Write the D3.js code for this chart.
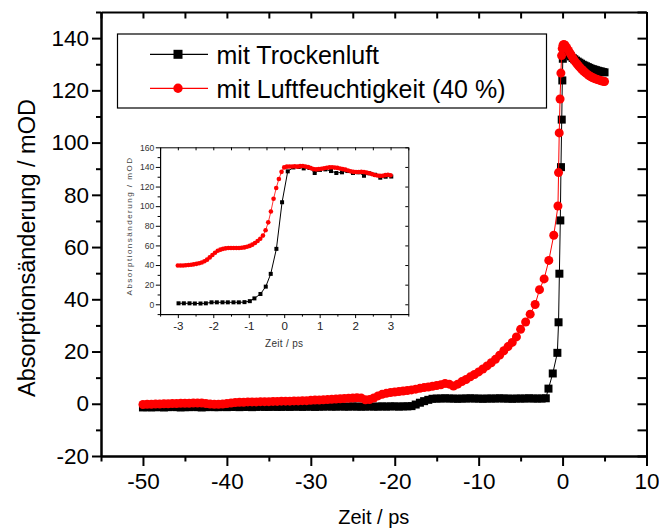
<!DOCTYPE html>
<html>
<head>
<meta charset="utf-8">
<script src="https://cdn.jsdelivr.net/npm/d3@7"></script>
<style>
  html, body { margin: 0; padding: 0; background: #fff; }
  svg { display: block; font-family: "Liberation Sans", Arial, sans-serif; }
</style>
</head>
<body>
<svg id="chart" width="659" height="532"></svg>
<script>
// ---------------- DATA ----------------
const seriesNames = ["mit Trockenluft", "mit Luftfeuchtigkeit (40 %)"];

// main panel: [time (ps), absorption change (mOD)]
const dryMain = [
  [-50,-1.4],[-49.5,-1.3],[-49,-1.4],[-48.5,-1.3],[-48,-1.3],[-47.5,-1.4],[-47,-1.3],[-46.5,-1.2],[-46,-1.3],[-45.5,-1.4],
  [-45,-1.3],[-44.5,-1.3],[-44,-1.2],[-43.5,-1.3],[-43,-1.4],[-42.5,-1.3],[-42,-1.2],[-41.5,-1.3],[-41,-1.3],[-40.5,-1.2],
  [-40,-1.3],[-39.5,-1.2],[-39,-1.2],[-38.5,-1.3],[-38,-1.2],[-37.5,-1.2],[-37,-1.3],[-36.5,-1.2],[-36,-1.1],[-35.5,-1.2],
  [-35,-1.2],[-34.5,-1.1],[-34,-1.2],[-33.5,-1.2],[-33,-1.1],[-32.5,-1.2],[-32,-1.1],[-31.5,-1.1],[-31,-1.2],[-30.5,-1.1],
  [-30,-1.1],[-29.5,-1.2],[-29,-1.1],[-28.5,-1.1],[-28,-1.0],[-27.5,-1.1],[-27,-1.1],[-26.5,-1.0],[-26,-1.1],[-25.5,-1.1],
  [-25,-1.0],[-24.5,-1.1],[-24,-1.1],[-23.5,-1.1],[-23,-1.0],[-22.5,-1.1],[-22,-1.1],[-21.5,-1.0],[-21,-1.1],[-20.5,-1.0],
  [-20,-1.0],[-19.5,-1.1],[-19,-1.0],[-18.5,-1.0],[-18,-0.9],[-17.5,-0.3],[-17,0.4],[-16.5,1.0],[-16,1.5],[-15.5,1.9],
  [-15,2.0],[-14.5,2.0],[-14,2.1],[-13.5,2.0],[-13,2.0],[-12.5,1.9],[-12,2.0],[-11.5,2.0],[-11,2.1],[-10.5,2.0],
  [-10,2.0],[-9.5,1.9],[-9,2.0],[-8.5,2.0],[-8,2.0],[-7.5,2.1],[-7,2.0],[-6.5,2.0],[-6,1.9],[-5.5,2.0],
  [-5,2.0],[-4.5,2.0],[-4,2.1],[-3.5,2.0],[-3,2.0],[-2.5,2.0],[-2.0,2.1],
  [-1.68,5.8],[-1.17,11.6],[-0.62,19.5],[-0.48,31.2],[-0.38,49.8],[-0.27,70.2],[-0.19,90.6],[-0.1,108.8],[-0.03,123.8],[0.03,132.1],[0.1,135.0],
  [0.2,135.5],[0.4,135.0],[0.6,134.3],[0.8,133.6],[1.0,133.0],[1.2,132.4],[1.4,131.9],[1.6,131.4],[1.8,131.0],[2.0,130.6],
  [2.2,130.2],[2.4,129.8],[2.6,129.5],[2.8,129.2],[3.0,128.9],[3.2,128.6],[3.4,128.3],[3.6,128.1],[3.8,127.9],[4.0,127.7],
  [4.2,127.5],[4.4,127.3],[4.6,127.2],[4.8,127.0],[5.0,126.9]
];

const humidMain = [
  [-50,-0.3],[-49.5,-0.2],[-49,-0.2],[-48.5,-0.1],[-48,-0.1],[-47.5,0.0],[-47,0.0],[-46.5,0.1],[-46,0.1],[-45.5,0.2],
  [-45,0.2],[-44.5,0.2],[-44,0.3],[-43.5,0.3],[-43,0.3],[-42.5,0.1],[-42,-0.1],[-41.5,-0.2],[-41,-0.2],[-40.5,-0.1],
  [-40,0.1],[-39.5,0.3],[-39,0.5],[-38.5,0.6],[-38,0.6],[-37.5,0.7],[-37,0.7],[-36.5,0.7],[-36,0.8],[-35.5,0.8],
  [-35,0.8],[-34.5,0.9],[-34,0.9],[-33.5,1.0],[-33,1.0],[-32.5,1.0],[-32,1.1],[-31.5,1.1],[-31,1.2],[-30.5,1.2],
  [-30,1.3],[-29.5,1.4],[-29,1.4],[-28.5,1.5],[-28,1.6],[-27.5,1.7],[-27,1.8],[-26.5,1.9],[-26,2.0],[-25.5,2.1],
  [-25,2.2],[-24.5,2.3],[-24,2.2],[-23.5,1.5],[-23,1.6],[-22.5,2.2],[-22,3.0],[-21.5,3.6],[-21,4.0],[-20.5,4.3],
  [-20,4.5],[-19.5,4.7],[-19,4.9],[-18.5,5.1],[-18,5.3],[-17.5,5.6],[-17,5.9],[-16.5,6.2],[-16,6.4],[-15.5,6.7],
  [-15,7.0],[-14.5,7.3],[-14,7.8],[-13.5,7.5],[-13,6.8],[-12.5,7.5],[-12,8.5],[-11.5,9.3],[-11,10.3],[-10.5,11.2],
  [-10,12.2],[-9.5,13.3],[-9,14.5],[-8.5,15.7],[-8,17.0],[-7.5,18.6],[-7,20.3],[-6.5,21.9],[-6,23.5],[-5.5,25.6],
  [-5.0,28.5],[-4.4,31.3],[-3.86,34.3],[-3.27,38.0],[-2.75,43.7],[-2.2,47.8],[-1.64,54.9],[-1.05,64.5],
  [-0.55,75.7],[-0.48,88.5],[-0.4,103.7],[-0.3,116.7],[-0.2,126.6],[-0.12,133.3],[-0.04,136.0],[0.05,137.3],[0.15,137.6],
  [0.3,137.3],[0.5,136.3],[0.7,135.3],[0.9,134.2],[1.1,133.1],[1.3,132.0],[1.5,131.0],[1.7,130.2],[1.9,129.4],[2.1,128.7],
  [2.3,128.0],[2.5,127.4],[2.7,126.8],[2.9,126.3],[3.1,125.8],[3.3,125.4],[3.5,125.0],[3.7,124.7],[3.9,124.4],[4.1,124.2],
  [4.3,124.0],[4.5,123.8],[4.7,123.6],[4.9,123.5],[5.0,123.4]
];

// inset panel
const dryInset = [
  [-2.98,1.0],[-2.83,1.0],[-2.67,1.0],[-2.52,0.8],[-2.36,0.8],[-2.21,1.0],[-2.05,2.0],[-1.90,2.0],[-1.74,2.0],[-1.59,2.0],
  [-1.43,2.0],[-1.28,2.0],[-1.12,2.2],[-0.97,3.2],[-0.84,6.0],[-0.67,10.5],[-0.52,18.0],[-0.38,31.0],[-0.22,56.5],[-0.06,104.0],
  [0.10,135.5],[0.26,139.5],[0.41,140.0],[0.55,138.5],[0.71,139.0],[0.86,133.8],[1.01,137.0],[1.16,137.5],[1.32,135.8],[1.47,133.8],
  [1.63,134.5],[1.78,135.8],[1.94,133.8],[2.09,134.5],[2.25,131.0],[2.40,133.5],[2.56,132.0],[2.71,129.0],[2.86,130.0],[3.02,130.2]
];

const humidInset = [
  [-3.000,39.5],[-2.925,39.5],[-2.850,39.6],[-2.775,39.8],[-2.700,40.0],[-2.625,40.3],[-2.550,40.7],[-2.475,41.2],[-2.400,41.8],[-2.325,42.6],
  [-2.250,43.8],[-2.175,45.5],[-2.100,47.8],[-2.025,50.2],[-1.950,52.6],[-1.875,54.5],[-1.800,55.7],[-1.725,56.5],[-1.650,57.0],[-1.575,57.3],
  [-1.500,57.4],[-1.425,57.4],[-1.350,57.3],[-1.275,57.4],[-1.200,57.6],[-1.125,58.0],[-1.050,58.6],[-0.975,59.5],[-0.900,60.8],[-0.825,62.5],
  [-0.750,64.5],[-0.675,66.8],[-0.600,70.0],[-0.525,75.5],[-0.450,83.5],[-0.375,94.5],[-0.300,107.5],[-0.225,118.5],[-0.150,127.7],[-0.075,135.0],
  [0.000,139.5],[0.075,140.3],[0.150,140.5],[0.225,140.4],[0.300,140.6],[0.375,140.3],[0.450,140.8],[0.525,141.0],[0.600,140.5],[0.675,139.8],
  [0.750,138.8],[0.825,137.8],[0.900,137.5],[0.975,137.8],[1.050,138.2],[1.125,138.6],[1.200,139.2],[1.275,139.5],[1.350,139.6],[1.425,139.3],
  [1.500,139.0],[1.575,138.4],[1.650,137.8],[1.725,137.2],[1.800,136.3],[1.875,135.5],[1.950,135.0],[2.025,134.8],[2.100,134.9],[2.175,135.0],
  [2.250,134.7],[2.325,134.2],[2.400,133.5],[2.475,132.7],[2.550,131.8],[2.625,131.2],[2.700,130.9],[2.775,131.0],[2.850,131.6],[2.925,132.0],
  [3.000,131.5]
];

// ticks
const mainXTicks = [-50, -40, -30, -20, -10, 0, 10];
const mainXMinor = [-55, -45, -35, -25, -15, -5, 5];
const mainYTicks = [-20, 0, 20, 40, 60, 80, 100, 120, 140];
const mainYMinor = [-10, 10, 30, 50, 70, 90, 110, 130, 150];
const insetXTicks = [-3, -2, -1, 0, 1, 2, 3];
const insetXMinor = [-3.5, -2.5, -1.5, -0.5, 0.5, 1.5, 2.5, 3.5];
const insetYTicks = [0, 20, 40, 60, 80, 100, 120, 140, 160];
const insetYMinor = [-10, 10, 30, 50, 70, 90, 110, 130, 150];

const xTitle = "Zeit / ps";
const yTitle = "Absorptionsänderung / mOD";

// ---------------- DRAW ----------------
const svg = d3.select("#chart");
const fmt = d => String(d);
const colors = ["#000000", "#ff0000"];

// main scales
const x = d3.scaleLinear().domain([-55, 10]).range([101, 646.5]);
const y = d3.scaleLinear().domain([-20, 150]).range([456, 12]);

function styleAxis(g, width) {
  g.selectAll("path.domain").attr("stroke", "#000").attr("stroke-width", width);
  g.selectAll(".tick line").attr("stroke", "#000").attr("stroke-width", width);
}

// bottom
const gB = svg.append("g").attr("transform", `translate(0,${y.range()[0]})`)
  .call(d3.axisBottom(x).tickValues(mainXTicks).tickFormat(fmt).tickSize(10).tickPadding(7).tickSizeOuter(0));
gB.selectAll("text").attr("font-size", 22.5).attr("fill", "#000");
styleAxis(gB, 2);
const gBm = svg.append("g").attr("transform", `translate(0,${y.range()[0]})`)
  .call(d3.axisBottom(x).tickValues(mainXMinor).tickFormat("").tickSize(5.5).tickSizeOuter(0));
styleAxis(gBm, 2);
// top
const gT = svg.append("g").attr("transform", `translate(0,${y.range()[1]})`)
  .call(d3.axisTop(x).tickValues(mainXTicks.concat(mainXMinor)).tickFormat("").tickSize(-6.5).tickSizeOuter(0));
styleAxis(gT, 2);
// left
const gL = svg.append("g").attr("transform", `translate(${x.range()[0]},0)`)
  .call(d3.axisLeft(y).tickValues(mainYTicks).tickFormat(fmt).tickSize(9).tickPadding(3).tickSizeOuter(0));
gL.selectAll("text").attr("font-size", 22.5).attr("fill", "#000");
styleAxis(gL, 2);
const gLm = svg.append("g").attr("transform", `translate(${x.range()[0]},0)`)
  .call(d3.axisLeft(y).tickValues(mainYMinor).tickFormat("").tickSize(5).tickSizeOuter(0));
styleAxis(gLm, 2);
// right
const gR = svg.append("g").attr("transform", `translate(${x.range()[1]},0)`)
  .call(d3.axisRight(y).tickValues(mainYTicks.concat(mainYMinor)).tickFormat("").tickSize(-9).tickSizeOuter(0));
styleAxis(gR, 2);

// axis titles
svg.append("text")
  .attr("x", (x.range()[0] + x.range()[1]) / 2).attr("y", 524)
  .attr("text-anchor", "middle").attr("font-size", 20).attr("fill", "#000")
  .text(xTitle);
svg.append("text")
  .attr("transform", "translate(35,248) rotate(-90)")
  .attr("text-anchor", "middle").attr("font-size", 23.5).attr("fill", "#000")
  .text(yTitle);

// main data
const lineMain = d3.line().x(d => x(d[0])).y(d => y(d[1]));
const gData = svg.append("g");
gData.append("path").datum(dryMain).attr("d", lineMain)
  .attr("fill", "none").attr("stroke", colors[0]).attr("stroke-width", 1);
gData.append("g").selectAll("rect").data(dryMain).join("rect")
  .attr("x", d => x(d[0]) - 4).attr("y", d => y(d[1]) - 4)
  .attr("width", 8).attr("height", 8).attr("fill", colors[0]);
gData.append("path").datum(humidMain).attr("d", lineMain)
  .attr("fill", "none").attr("stroke", colors[1]).attr("stroke-width", 1);
gData.append("g").selectAll("circle").data(humidMain).join("circle")
  .attr("cx", d => x(d[0])).attr("cy", d => y(d[1])).attr("r", 4.5).attr("fill", colors[1]);

// legend
const leg = svg.append("g");
leg.append("rect").attr("x", 117.5).attr("y", 34).attr("width", 429).attr("height", 74)
  .attr("fill", "#fff").attr("stroke", "#000").attr("stroke-width", 1.2);
const legRows = [54.3, 88.3];
seriesNames.forEach((name, i) => {
  const cy = legRows[i];
  leg.append("line").attr("x1", 150).attr("x2", 208).attr("y1", cy).attr("y2", cy)
    .attr("stroke", colors[i]).attr("stroke-width", 1.2);
  if (i === 0) {
    leg.append("rect").attr("x", 178 - 4.5).attr("y", cy - 4.5).attr("width", 9).attr("height", 9).attr("fill", colors[i]);
  } else {
    leg.append("circle").attr("cx", 178).attr("cy", cy).attr("r", 4.7).attr("fill", colors[i]);
  }
  leg.append("text").attr("x", 216.5).attr("y", cy + 9.5)
    .attr("font-size", 25).attr("fill", "#000").text(name);
});

// ---------------- INSET ----------------
const xi = d3.scaleLinear().domain([-3.5, 3.5]).range([160.1, 408.3]);
const yi = d3.scaleLinear().domain([-10, 160]).range([314.1, 147.3]);
const inset = svg.append("g");

const iB = inset.append("g").attr("transform", `translate(0,${yi.range()[0]})`)
  .call(d3.axisBottom(xi).tickValues(insetXTicks).tickFormat(fmt).tickSize(4).tickPadding(3.5).tickSizeOuter(0));
iB.selectAll("text").attr("font-size", 11.5).attr("fill", "#222");
styleAxis(iB, 1);
const iBm = inset.append("g").attr("transform", `translate(0,${yi.range()[0]})`)
  .call(d3.axisBottom(xi).tickValues(insetXMinor).tickFormat("").tickSize(2.5).tickSizeOuter(0));
styleAxis(iBm, 1);
const iT = inset.append("g").attr("transform", `translate(0,${yi.range()[1]})`)
  .call(d3.axisTop(xi).tickValues(insetXTicks.concat(insetXMinor)).tickFormat("").tickSize(-3).tickSizeOuter(0));
styleAxis(iT, 1);
const iL = inset.append("g").attr("transform", `translate(${xi.range()[0]},0)`)
  .call(d3.axisLeft(yi).tickValues(insetYTicks).tickFormat(fmt).tickSize(4.3).tickPadding(1.5).tickSizeOuter(0));
iL.selectAll("text").attr("font-size", 8.6).attr("fill", "#333");
styleAxis(iL, 1);
const iLm = inset.append("g").attr("transform", `translate(${xi.range()[0]},0)`)
  .call(d3.axisLeft(yi).tickValues(insetYMinor).tickFormat("").tickSize(2.5).tickSizeOuter(0));
styleAxis(iLm, 1);
const iR = inset.append("g").attr("transform", `translate(${xi.range()[1]},0)`)
  .call(d3.axisRight(yi).tickValues(insetYTicks).tickFormat("").tickSize(-3).tickSizeOuter(0));
styleAxis(iR, 1);

inset.append("text")
  .attr("x", (xi.range()[0] + xi.range()[1]) / 2).attr("y", 346.7)
  .attr("text-anchor", "middle").attr("font-size", 10).attr("letter-spacing", 0.3).attr("fill", "#333")
  .text(xTitle);
inset.append("text")
  .attr("transform", "translate(131.5,226) rotate(-90)")
  .attr("text-anchor", "middle").attr("font-size", 8).attr("letter-spacing", 1.5).attr("fill", "#444")
  .text(yTitle);

const lineInset = d3.line().x(d => xi(d[0])).y(d => yi(d[1]));
inset.append("path").datum(dryInset).attr("d", lineInset)
  .attr("fill", "none").attr("stroke", colors[0]).attr("stroke-width", 1);
inset.append("g").selectAll("rect").data(dryInset).join("rect")
  .attr("x", d => xi(d[0]) - 2).attr("y", d => yi(d[1]) - 2)
  .attr("width", 4).attr("height", 4).attr("fill", colors[0]);
inset.append("path").datum(humidInset).attr("d", lineInset)
  .attr("fill", "none").attr("stroke", colors[1]).attr("stroke-width", 0.8);
inset.append("g").selectAll("circle").data(humidInset).join("circle")
  .attr("cx", d => xi(d[0])).attr("cy", d => yi(d[1])).attr("r", 2.3).attr("fill", colors[1]);
</script>
</body>
</html>
